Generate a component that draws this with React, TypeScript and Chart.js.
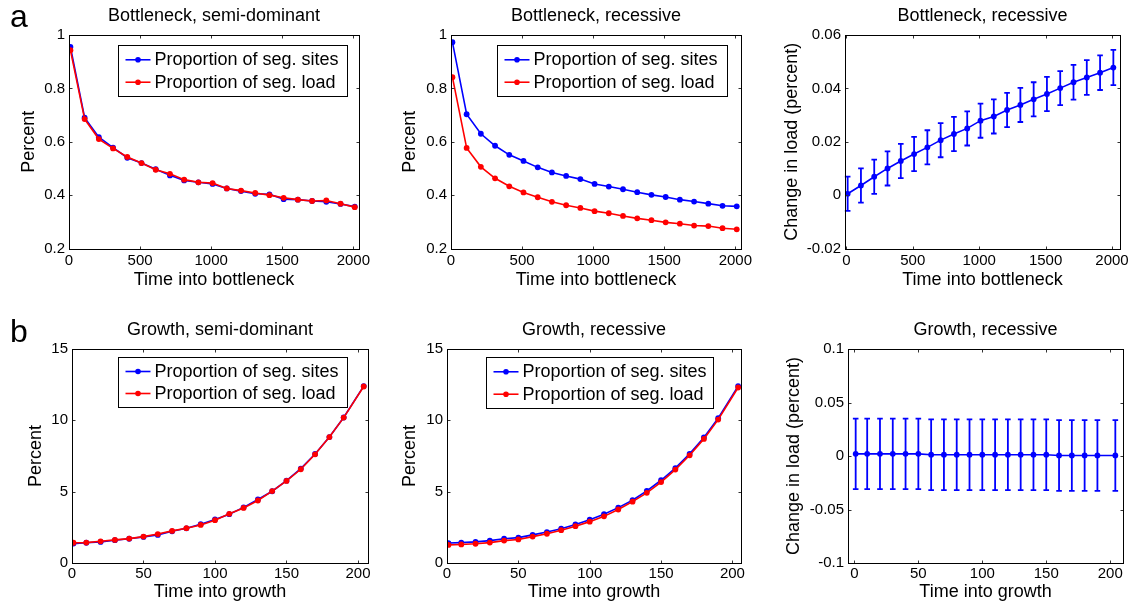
import React, { useEffect, useRef } from "react";
import { Chart, registerables } from "chart.js";

Chart.register(...registerables);

const FONT = "'Liberation Sans', Arial, Helvetica, sans-serif";
const BLUE = "#0000ff";
const RED = "#ff0000";

// ---------- data ----------
const bottleneckTime = [10, 110, 210, 310, 410, 510, 610, 710, 810, 910, 1010, 1110, 1210, 1310, 1410, 1510, 1610, 1710, 1810, 1910, 2010];
const growthTime = [1, 10, 20, 30, 40, 50, 60, 70, 80, 90, 100, 110, 120, 130, 140, 150, 160, 170, 180, 190, 204];

const bnSemiSites = [0.955, 0.69, 0.617, 0.578, 0.54, 0.52, 0.497, 0.474, 0.455, 0.448, 0.442, 0.425, 0.415, 0.405, 0.403, 0.385, 0.383, 0.378, 0.375, 0.367, 0.357];
const bnSemiLoad = [0.943, 0.685, 0.61, 0.575, 0.543, 0.52, 0.495, 0.48, 0.458, 0.448, 0.445, 0.425, 0.417, 0.408, 0.4, 0.39, 0.383, 0.378, 0.38, 0.368, 0.355];

const bnRecSites = [0.973, 0.703, 0.63, 0.585, 0.551, 0.528, 0.504, 0.485, 0.472, 0.46, 0.442, 0.432, 0.422, 0.411, 0.401, 0.393, 0.383, 0.376, 0.368, 0.36, 0.358];
const bnRecLoad = [0.842, 0.577, 0.506, 0.463, 0.433, 0.41, 0.392, 0.375, 0.362, 0.352, 0.34, 0.332, 0.322, 0.313, 0.306, 0.298, 0.293, 0.286, 0.284, 0.276, 0.272];

const bnChange = [0.0005, 0.0036, 0.0069, 0.01, 0.0128, 0.0154, 0.0179, 0.0206, 0.0229, 0.025, 0.0279, 0.0295, 0.0319, 0.0338, 0.0359, 0.0379, 0.0401, 0.0423, 0.0441, 0.0459, 0.0478];
const bnChangeErr = [0.0064, 0.0064, 0.0064, 0.0064, 0.0064, 0.0064, 0.0064, 0.0064, 0.0064, 0.0064, 0.0064, 0.0064, 0.0064, 0.0064, 0.0064, 0.0064, 0.0064, 0.0065, 0.0065, 0.0065, 0.0066];

const grSemiSites = [1.36, 1.42, 1.48, 1.6, 1.7, 1.83, 1.97, 2.22, 2.43, 2.72, 3.05, 3.42, 3.9, 4.45, 5.03, 5.77, 6.62, 7.64, 8.83, 10.2, 12.4];
const grSemiLoad = [1.42, 1.43, 1.52, 1.62, 1.71, 1.85, 2.03, 2.25, 2.44, 2.67, 3.0, 3.45, 3.86, 4.38, 5.04, 5.75, 6.57, 7.62, 8.83, 10.19, 12.37];

const grRecSites = [1.4, 1.43, 1.48, 1.57, 1.7, 1.78, 1.97, 2.17, 2.4, 2.7, 3.03, 3.42, 3.88, 4.4, 5.05, 5.8, 6.65, 7.65, 8.8, 10.15, 12.4];
const grRecLoad = [1.27, 1.3, 1.35, 1.43, 1.57, 1.65, 1.85, 2.05, 2.3, 2.58, 2.9, 3.27, 3.75, 4.3, 4.92, 5.67, 6.55, 7.55, 8.7, 10.05, 12.3];

const grChange = [0.002, 0.002, 0.002, 0.002, 0.002, 0.002, 0.0012, 0.0012, 0.0012, 0.0012, 0.0012, 0.0012, 0.0012, 0.0012, 0.0012, 0.0012, 0.0005, 0.0005, 0.0005, 0.0005, 0.0005];
const grChangeErr = [0.033, 0.033, 0.033, 0.033, 0.033, 0.033, 0.033, 0.033, 0.033, 0.033, 0.033, 0.033, 0.033, 0.033, 0.033, 0.033, 0.033, 0.033, 0.033, 0.033, 0.033];

// ---------- tick values / labels ----------
const bnTimeTicks = [0, 500, 1000, 1500, 2000];
const bnTimeLabels = ["0", "500", "1000", "1500", "2000"];
const grTimeTicks = [0, 50, 100, 150, 200];
const grTimeLabels = ["0", "50", "100", "150", "200"];
const bnPercentTicks = [0.2, 0.4, 0.6, 0.8, 1];
const bnPercentLabels = ["0.2", "0.4", "0.6", "0.8", "1"];
const bnChangeTicks = [-0.02, 0, 0.02, 0.04, 0.06];
const bnChangeLabels = ["-0.02", "0", "0.02", "0.04", "0.06"];
const grPercentTicks = [0, 5, 10, 15];
const grPercentLabels = ["0", "5", "10", "15"];
const grChangeTicks = [-0.1, -0.05, 0, 0.05, 0.1];
const grChangeLabels = ["-0.1", "-0.05", "0", "0.05", "0.1"];

// ---------- text ----------
const legendLabels = ["Proportion of seg. sites", "Proportion of seg. load"];
const panelTitles = [
  "Bottleneck, semi-dominant",
  "Bottleneck, recessive",
  "Bottleneck, recessive",
  "Growth, semi-dominant",
  "Growth, recessive",
  "Growth, recessive",
];
const xTitles = ["Time into bottleneck", "Time into growth"];
const yTitles = ["Percent", "Change in load (percent)"];

type Area = { l: number; r: number; t: number; b: number };
type Panel = {
  area: Area;
  yTitleMid: number;
  xTitleMid: number;
  xTickPad: number;
  xMin: number;
  xMax: number;
  yMin: number;
  yMax: number;
  xTicks: number[];
  xLabels: string[];
  yTicks: number[];
  yLabels: string[];
  title: string;
  xTitle: string;
  yTitle: string;
  xs: number[];
  series: { label: string; color: string; values: number[]; order: number }[];
  errors?: number[];
  legend?: { right: number; top: number; w: number; h: number };
};

const W = 1136;
const H = 605;

const panels: Panel[] = [
  {
    area: { l: 69, r: 359, t: 35, b: 248.5 },
    yTitleMid: 28.8, xTitleMid: 280, xTickPad: 3,
    xMin: 0, xMax: 2040, yMin: 0.2, yMax: 1,
    xTicks: bnTimeTicks, xLabels: bnTimeLabels, yTicks: bnPercentTicks, yLabels: bnPercentLabels,
    title: panelTitles[0], xTitle: xTitles[0], yTitle: yTitles[0], xs: bottleneckTime,
    series: [
      { label: legendLabels[0], color: BLUE, values: bnSemiSites, order: 1 },
      { label: legendLabels[1], color: RED, values: bnSemiLoad, order: 0 },
    ],
    legend: { right: 12, top: 10, w: 229, h: 51 },
  },
  {
    area: { l: 451, r: 741, t: 35, b: 248.5 },
    yTitleMid: 410.3, xTitleMid: 280, xTickPad: 3,
    xMin: 0, xMax: 2040, yMin: 0.2, yMax: 1,
    xTicks: bnTimeTicks, xLabels: bnTimeLabels, yTicks: bnPercentTicks, yLabels: bnPercentLabels,
    title: panelTitles[1], xTitle: xTitles[0], yTitle: yTitles[0], xs: bottleneckTime,
    series: [
      { label: legendLabels[0], color: BLUE, values: bnRecSites, order: 1 },
      { label: legendLabels[1], color: RED, values: bnRecLoad, order: 0 },
    ],
    legend: { right: 14, top: 10, w: 230, h: 51 },
  },
  {
    area: { l: 845, r: 1120, t: 35, b: 248.5 },
    yTitleMid: 792, xTitleMid: 280, xTickPad: 3,
    xMin: -10, xMax: 2060, yMin: -0.02, yMax: 0.06,
    xTicks: bnTimeTicks, xLabels: bnTimeLabels, yTicks: bnChangeTicks, yLabels: bnChangeLabels,
    title: panelTitles[2], xTitle: xTitles[0], yTitle: yTitles[1], xs: bottleneckTime,
    series: [{ label: "Change in load", color: BLUE, values: bnChange, order: 0 }],
    errors: bnChangeErr,
  },
  {
    area: { l: 72, r: 368, t: 349, b: 563 },
    yTitleMid: 36.3, xTitleMid: 592, xTickPad: 2,
    xMin: 0, xMax: 207, yMin: 0, yMax: 15,
    xTicks: grTimeTicks, xLabels: grTimeLabels, yTicks: grPercentTicks, yLabels: grPercentLabels,
    title: panelTitles[3], xTitle: xTitles[1], yTitle: yTitles[0], xs: growthTime,
    series: [
      { label: legendLabels[0], color: BLUE, values: grSemiSites, order: 1 },
      { label: legendLabels[1], color: RED, values: grSemiLoad, order: 0 },
    ],
    legend: { right: 21, top: 8, w: 229, h: 50 },
  },
  {
    area: { l: 447, r: 741, t: 349, b: 563 },
    yTitleMid: 410.3, xTitleMid: 592, xTickPad: 2,
    xMin: 0, xMax: 206, yMin: 0, yMax: 15,
    xTicks: grTimeTicks, xLabels: grTimeLabels, yTicks: grPercentTicks, yLabels: grPercentLabels,
    title: panelTitles[4], xTitle: xTitles[1], yTitle: yTitles[0], xs: growthTime,
    series: [
      { label: legendLabels[0], color: BLUE, values: grRecSites, order: 1 },
      { label: legendLabels[1], color: RED, values: grRecLoad, order: 0 },
    ],
    legend: { right: 28, top: 8, w: 227, h: 51 },
  },
  {
    area: { l: 848, r: 1123, t: 349, b: 563 },
    yTitleMid: 793.6, xTitleMid: 592, xTickPad: 2,
    xMin: -5, xMax: 210, yMin: -0.1, yMax: 0.1,
    xTicks: grTimeTicks, xLabels: grTimeLabels, yTicks: grChangeTicks, yLabels: grChangeLabels,
    title: panelTitles[5], xTitle: xTitles[1], yTitle: yTitles[1], xs: growthTime,
    series: [{ label: "Change in load", color: BLUE, values: grChange, order: 0 }],
    errors: grChangeErr,
  },
];

// ---------- plugins ----------
const matlabPlugin = {
  id: "matlab",
  afterDatasetsDraw(chart: any, _args: any, opts: any) {
    const errors: number[] | undefined = opts.errors;
    if (!errors) return;
    const ctx = chart.ctx;
    const xs = chart.scales.x;
    const ys = chart.scales.y;
    const ds = chart.data.datasets[0];
    ctx.save();
    ctx.strokeStyle = BLUE;
    ctx.lineWidth = 1.8;
    ds.data.forEach((p: any, i: number) => {
      const x = xs.getPixelForValue(p.x);
      const y1 = ys.getPixelForValue(p.y + errors[i]);
      const y2 = ys.getPixelForValue(p.y - errors[i]);
      ctx.beginPath();
      ctx.moveTo(x, y1);
      ctx.lineTo(x, y2);
      ctx.moveTo(x - 2.8, y1);
      ctx.lineTo(x + 2.8, y1);
      ctx.moveTo(x - 2.8, y2);
      ctx.lineTo(x + 2.8, y2);
      ctx.stroke();
    });
    ctx.restore();
  },
  afterDraw(chart: any, _args: any, opts: any) {
    const ctx = chart.ctx;
    const { left, right, top, bottom } = chart.chartArea;
    const L = Math.round(left) + 0.5;
    const R = Math.round(right) + 0.5;
    const T = Math.round(top) + 0.5;
    const B = Math.round(bottom) + 0.5;
    ctx.save();
    // inward tick marks on all four sides
    ctx.strokeStyle = "#333";
    ctx.lineWidth = 1;
    const tl = 3;
    chart.scales.x.ticks.forEach((t: any) => {
      const x = Math.round(chart.scales.x.getPixelForValue(t.value)) + 0.5;
      ctx.beginPath();
      ctx.moveTo(x, B);
      ctx.lineTo(x, B - tl);
      ctx.moveTo(x, T);
      ctx.lineTo(x, T + tl);
      ctx.stroke();
    });
    chart.scales.y.ticks.forEach((t: any) => {
      const y = Math.round(chart.scales.y.getPixelForValue(t.value)) + 0.5;
      ctx.beginPath();
      ctx.moveTo(L, y);
      ctx.lineTo(L + tl, y);
      ctx.moveTo(R, y);
      ctx.lineTo(R - tl, y);
      ctx.stroke();
    });
    // box
    ctx.strokeStyle = "#000";
    ctx.lineWidth = 1;
    ctx.strokeRect(L, T, R - L, B - T);

    // legend box inside axes
    const lg = opts.legend;
    if (lg) {
      const bx = Math.round(right - lg.right - lg.w) + 0.5;
      const by = Math.round(top + lg.top) + 0.5;
      ctx.fillStyle = "#fff";
      ctx.fillRect(bx, by, lg.w, lg.h);
      ctx.strokeStyle = "#000";
      ctx.strokeRect(bx, by, lg.w, lg.h);
      const rows = [by + lg.h * 0.28, by + lg.h * 0.72];
      chart.data.datasets.forEach((d: any, i: number) => {
        const cy = rows[i];
        ctx.strokeStyle = d.borderColor;
        ctx.lineWidth = 1.6;
        ctx.beginPath();
        ctx.moveTo(bx + 7, cy);
        ctx.lineTo(bx + 32, cy);
        ctx.stroke();
        ctx.fillStyle = d.borderColor;
        ctx.beginPath();
        ctx.arc(bx + 19.5, cy, 2.8, 0, Math.PI * 2);
        ctx.fill();
        ctx.fillStyle = "#000";
        ctx.font = `18px ${FONT}`;
        ctx.textAlign = "left";
        ctx.textBaseline = "middle";
        ctx.fillText(d.label, bx + 36, cy + 0.5);
      });
    }
    ctx.restore();
  },
};

function buildConfig(p: Panel): any {
  const padLeft = p.yTitleMid - 10.8;
  const yWidth = p.area.l - padLeft;
  const padTop = p.area.t - 29.3;
  const xHeight = p.xTitleMid - p.area.b + 10.8;
  const padBottom = H - p.area.b - xHeight;
  const padRight = W - p.area.r;
  return {
    type: "line",
    data: {
      datasets: p.series.map((s) => ({
        label: s.label,
        data: p.xs.map((x, i) => ({ x, y: s.values[i] })),
        borderColor: s.color,
        backgroundColor: s.color,
        pointBackgroundColor: s.color,
        pointBorderColor: s.color,
        pointRadius: 2.9,
        pointBorderWidth: 0,
        borderWidth: 1.6,
        tension: 0,
        order: s.order,
      })),
    },
    options: {
      animation: false,
      responsive: false,
      events: [],
      layout: { padding: { left: padLeft, right: padRight, top: padTop, bottom: padBottom } },
      plugins: {
        legend: { display: false },
        tooltip: { enabled: false },
        title: {
          display: true,
          text: p.title,
          fullSize: false,
          color: "#000",
          font: { family: FONT, size: 18, weight: "normal", lineHeight: 1.2 },
          padding: { top: 0, bottom: 7.7 },
        },
        matlab: { errors: p.errors, legend: p.legend },
      },
      scales: {
        x: {
          type: "linear",
          min: p.xMin,
          max: p.xMax,
          afterBuildTicks: (s: any) => {
            s.ticks = p.xTicks.map((v) => ({ value: v }));
          },
          afterFit: (s: any) => {
            s.height = xHeight;
            s.paddingLeft = 0;
            s.paddingRight = 0;
          },
          grid: { display: false, drawTicks: false },
          border: { display: false },
          ticks: {
            autoSkip: false,
            maxRotation: 0,
            padding: p.xTickPad,
            color: "#000",
            font: { family: FONT, size: 15, lineHeight: 1.2 },
            callback: (_v: any, i: number) => p.xLabels[i],
          },
          title: {
            display: true,
            text: p.xTitle,
            color: "#000",
            padding: 0,
            font: { family: FONT, size: 18, lineHeight: 1.2 },
          },
        },
        y: {
          type: "linear",
          min: p.yMin,
          max: p.yMax,
          afterBuildTicks: (s: any) => {
            s.ticks = p.yTicks.map((v) => ({ value: v }));
          },
          afterFit: (s: any) => {
            s.width = yWidth;
            s.paddingTop = 0;
            s.paddingBottom = 0;
          },
          grid: { display: false, drawTicks: false },
          border: { display: false },
          ticks: {
            autoSkip: false,
            padding: 4,
            color: "#000",
            font: { family: FONT, size: 15, lineHeight: 1.2 },
            callback: (_v: any, i: number) => p.yLabels[i],
          },
          title: {
            display: true,
            text: p.yTitle,
            color: "#000",
            padding: 0,
            font: { family: FONT, size: 18, lineHeight: 1.2 },
          },
        },
      },
    },
    plugins: [matlabPlugin],
  };
}

function PanelChart({ panel }: { panel: Panel }) {
  const ref = useRef<HTMLCanvasElement | null>(null);
  useEffect(() => {
    if (!ref.current) return;
    const chart = new Chart(ref.current, buildConfig(panel));
    return () => chart.destroy();
  }, [panel]);
  return (
    <canvas
      ref={ref}
      width={W}
      height={H}
      style={{ position: "absolute", left: 0, top: 0, width: W, height: H }}
    />
  );
}

const panelLetters = ["a", "b"];

export default function App() {
  return (
    <div
      style={{
        position: "fixed",
        left: 0,
        top: 0,
        width: W,
        height: H,
        background: "#fff",
        overflow: "hidden",
        fontFamily: FONT,
      }}
    >
      {panels.map((p, i) => (
        <PanelChart key={i} panel={p} />
      ))}
      <div style={{ position: "absolute", left: 10, top: 0, fontSize: 32, lineHeight: "32px", color: "#000" }}>
        {panelLetters[0]}
      </div>
      <div style={{ position: "absolute", left: 10, top: 314.5, fontSize: 32, lineHeight: "32px", color: "#000" }}>
        {panelLetters[1]}
      </div>
    </div>
  );
}
